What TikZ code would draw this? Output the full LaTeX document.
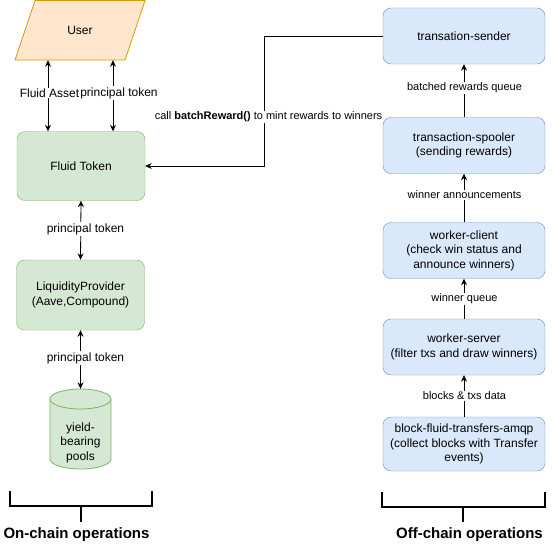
\documentclass[tikz,border=0pt]{standalone}
\usepackage{fontspec}
\setmainfont{Liberation Sans}
\usetikzlibrary{arrows.meta}
\definecolor{gfill}{HTML}{D5E8D4}
\definecolor{gline}{HTML}{82B366}
\definecolor{bfill}{HTML}{DAE8FC}
\definecolor{bline}{HTML}{6C8EBF}
\definecolor{ofill}{HTML}{FFE6CC}
\definecolor{oline}{HTML}{D79B00}
\begin{document}
\begin{tikzpicture}[x=1pt,y=-1pt,
  box/.style={draw, rounded corners=8pt, align=center, font=\fontsize{12}{14.5}\selectfont, inner sep=2pt},
  greenbox/.style={box, draw=gline, fill=gfill, minimum width=128pt, minimum height=69pt},
  bluebox/.style={box, draw=bline, fill=bfill, minimum width=162pt, minimum height=56pt},
  lbl/.style={fill=white, inner sep=1pt, font=\fontsize{11}{13}\selectfont},
  lblbig/.style={fill=white, inner sep=1pt, font=\fontsize{12}{14}\selectfont},
  arr/.style={-{Stealth[length=6.5pt,width=6pt]}, line width=0.8pt},
  biarr/.style={{Stealth[length=6.5pt,width=6pt]}-{Stealth[length=6.5pt,width=6pt]}, line width=0.8pt},
  brk/.style={line width=1.6pt},
  title/.style={font=\fontsize{15}{18}\selectfont\bfseries}]
\useasboundingbox (0,0) rectangle (551,551);

% User parallelogram
\draw[oline, fill=ofill, line width=0.8pt] (35,0.6) -- (145,0.6) -- (125,60) -- (15,60) -- cycle;
\node[font=\fontsize{12}{14}\selectfont, minimum width=110pt, minimum height=59.4pt, inner sep=0pt] (user) at (80,30.3) {User};

% left column
\node[greenbox] (ft) at (81,166) {Fluid Token};
\node[greenbox, minimum height=70pt] (lp) at (80.5,295) {LiquidityProvider\\(Aave,Compound)};

% cylinder
\path[draw=gline, fill=gfill, line width=0.8pt] (50,399) -- (50,459)
  arc[start angle=180, end angle=0, x radius=30.5, y radius=10] -- (111,399)
  arc[start angle=0, end angle=-180, x radius=30.5, y radius=10] -- cycle;
\draw[gline, line width=0.8pt] (50,399) arc[start angle=180, end angle=0, x radius=30.5, y radius=10];
\node[minimum width=61pt, minimum height=80pt, inner sep=0pt] (pools) at (80.5,429) {};
\node[align=center, font=\fontsize{12}{14.5}\selectfont] (poolstext) at (80.5,442.5) {yield-\\bearing\\pools};

% right column
\node[bluebox] (sender) at (464,36) {transation-sender};
\node[bluebox] (spooler) at (464,145.5) {transaction-spooler\\(sending rewards)};
\node[bluebox] (client) at (464,250.5) {worker-client\\(check win status and\\announce winners)};
\node[bluebox] (server) at (464,347) {worker-server\\(filter txs and draw winners)};
\node[bluebox, minimum height=54pt] (block) at (464,444) {block-fluid-transfers-amqp\\(collect blocks with Transfer\\events)};

% left connectors
\coordinate (ax1) at (48,0);
\coordinate (ax2) at (113,0);
\draw[biarr] (ax1 |- user.south) -- (ax1 |- ft.north);
\draw[biarr] (ax2 |- user.south) -- (ax2 |- ft.north);
\node[lblbig] (lfa) at (49.5,93) {Fluid Asset};
\node[lblbig] (lpt1) at (119,93) {principal token};

\draw[biarr] (ft.south) -- (lp.north);
\node[lblbig] (lpt2) at (85.5,229) {principal token};
\draw[biarr] (lp.south) -- (pools.north);
\node[lblbig] (lpt3) at (85.5,358) {principal token};

% right connectors
\draw[arr] (spooler.north) -- (sender.south);
\node[lbl] at (464.5,88) {batched rewards queue};
\draw[arr] (client.north) -- (spooler.south);
\node[lbl] at (464.5,195) {winner announcements};
\draw[arr] (server.north) -- (client.south);
\node[lbl] at (464.5,299) {winner queue};
\draw[arr] (block.north) -- (server.south);
\node[lbl] at (464.5,396) {blocks \& txs data};

% batchReward connector
\draw[arr] (sender.west) -- (264,36) -- (264,166) -- (ft.east);
\node[lbl] (lcall) at (268.5,117) {call \textbf{batchReward()} to mint rewards to winners};

% brackets
\draw[brk] (10,491) -- (10,506) -- (152,506) -- (152,491);
\draw[brk] (81,506) -- (81,522);
\node[title] (onchain) at (76.5,535) {On-chain operations};
\draw[brk] (382,492) -- (382,507) -- (545,507) -- (545,492);
\draw[brk] (463,507) -- (463,522);
\node[title] (offchain) at (469.5,535) {Off-chain operations};
\end{tikzpicture}
\end{document}
